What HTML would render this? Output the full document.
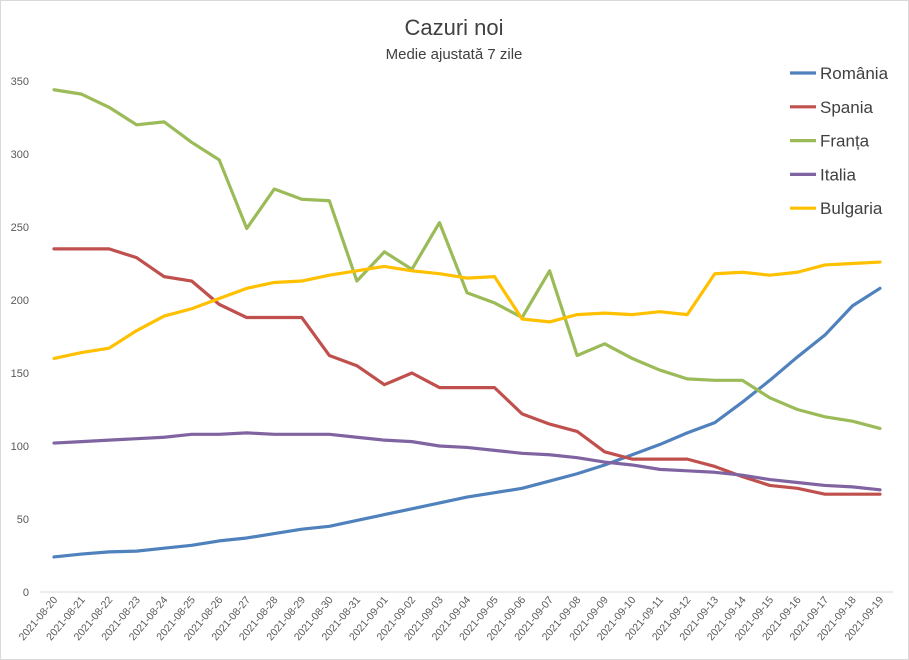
<!DOCTYPE html>
<html><head><meta charset="utf-8"><style>
html,body{margin:0;padding:0;background:#fff}
svg{display:block;font-family:"Liberation Sans",sans-serif}
</style></head><body>
<svg id="chart" width="909" height="660" viewBox="0 0 909 660">
<rect x="0.5" y="0.5" width="908" height="659" fill="#fff" stroke="#d9d9d9"/>
<text x="454" y="35" text-anchor="middle" font-size="22" fill="#404040">Cazuri noi</text>
<text x="454" y="59" text-anchor="middle" font-size="15" fill="#404040">Medie ajustată 7 zile</text>
<g id="yaxis"></g><g id="xaxis"></g><g id="series"></g><g id="legend"></g>
</svg>
<script>
const dates=["2021-08-20","2021-08-21","2021-08-22","2021-08-23","2021-08-24","2021-08-25","2021-08-26","2021-08-27","2021-08-28","2021-08-29","2021-08-30","2021-08-31","2021-09-01","2021-09-02","2021-09-03","2021-09-04","2021-09-05","2021-09-06","2021-09-07","2021-09-08","2021-09-09","2021-09-10","2021-09-11","2021-09-12","2021-09-13","2021-09-14","2021-09-15","2021-09-16","2021-09-17","2021-09-18","2021-09-19"];
const yTicks=[0,50,100,150,200,250,300,350];
const seriesNames=["România","Spania","Franța","Italia","Bulgaria"];
const romania=[24,26,27.5,28,30,32,35,37,40,43,45,49,53,57,61,65,68,71,76,81,87,94,101,109,116,130,145,161,176,196,208];
const spania=[235,235,235,229,216,213,197,188,188,188,162,155,142,150,140,140,140,122,115,110,96,91,91,91,86,79,73,71,67,67,67];
const franta=[344,341,332,320,322,308,296,249,276,269,268,213,233,221,253,205,198,188,220,162,170,160,152,146,145,145,133,125,120,117,112];
const italia=[102,103,104,105,106,108,108,109,108,108,108,106,104,103,100,99,97,95,94,92,89,87,84,83,82,80,77,75,73,72,70];
const bulgaria=[160,164,167,179,189,194,201,208,212,213,217,220,223,220,218,215,216,187,185,190,191,190,192,190,218,219,217,219,224,225,226];
const colors=["#4f81bd","#c0504d","#9bbb59","#8064a2","#ffc000"];
const NS="http://www.w3.org/2000/svg";
const x0=54,x1=880,yBase=592,yTop=81,yMax=350;
function xs(i){return x0+(x1-x0)*i/(dates.length-1);}
function ys(v){return yBase-(yBase-yTop)*v/yMax;}
function mk(t,a,p){const e=document.createElementNS(NS,t);for(const k in a)e.setAttribute(k,a[k]);p.appendChild(e);return e;}
const ya=document.getElementById('yaxis');
yTicks.forEach(t=>{const e=mk('text',{x:29,y:ys(t)+4,'text-anchor':'end','font-size':11,fill:'#595959'},ya);


e.textContent=t;});
const xa=document.getElementById('xaxis');
const al=mk('line',{x1:40,x2:893,y1:yBase,y2:yBase,stroke:'#d9d9d9'},xa);


dates.forEach((d,i)=>{const x=xs(i)+4,y=600;const e=mk('text',{x:x,y:y,'text-anchor':'end','font-size':10.5,fill:'#595959',transform:`rotate(-50 ${x} ${y})`},xa);


e.textContent=d;});
const sg=document.getElementById('series');
[romania,spania,franta,italia,bulgaria].forEach((arr,k)=>{
const p=mk('polyline',{points:arr.map((v,i)=>xs(i)+','+ys(v)).join(' '),fill:'none',stroke:colors[k],'stroke-width':3.2,'stroke-linejoin':'round','stroke-linecap':'round'},sg);

});
const lg=document.getElementById('legend');
seriesNames.forEach((n,k)=>{const y=73+k*33.8;
const g=mk('g',{},lg);


mk('line',{x1:790,x2:816,y1:y,y2:y,stroke:colors[k],'stroke-width':3.2},g);
const t=mk('text',{x:820,y:y+6,'font-size':17,fill:'#404040'},g);t.textContent=n;});
</script>
</body></html>
